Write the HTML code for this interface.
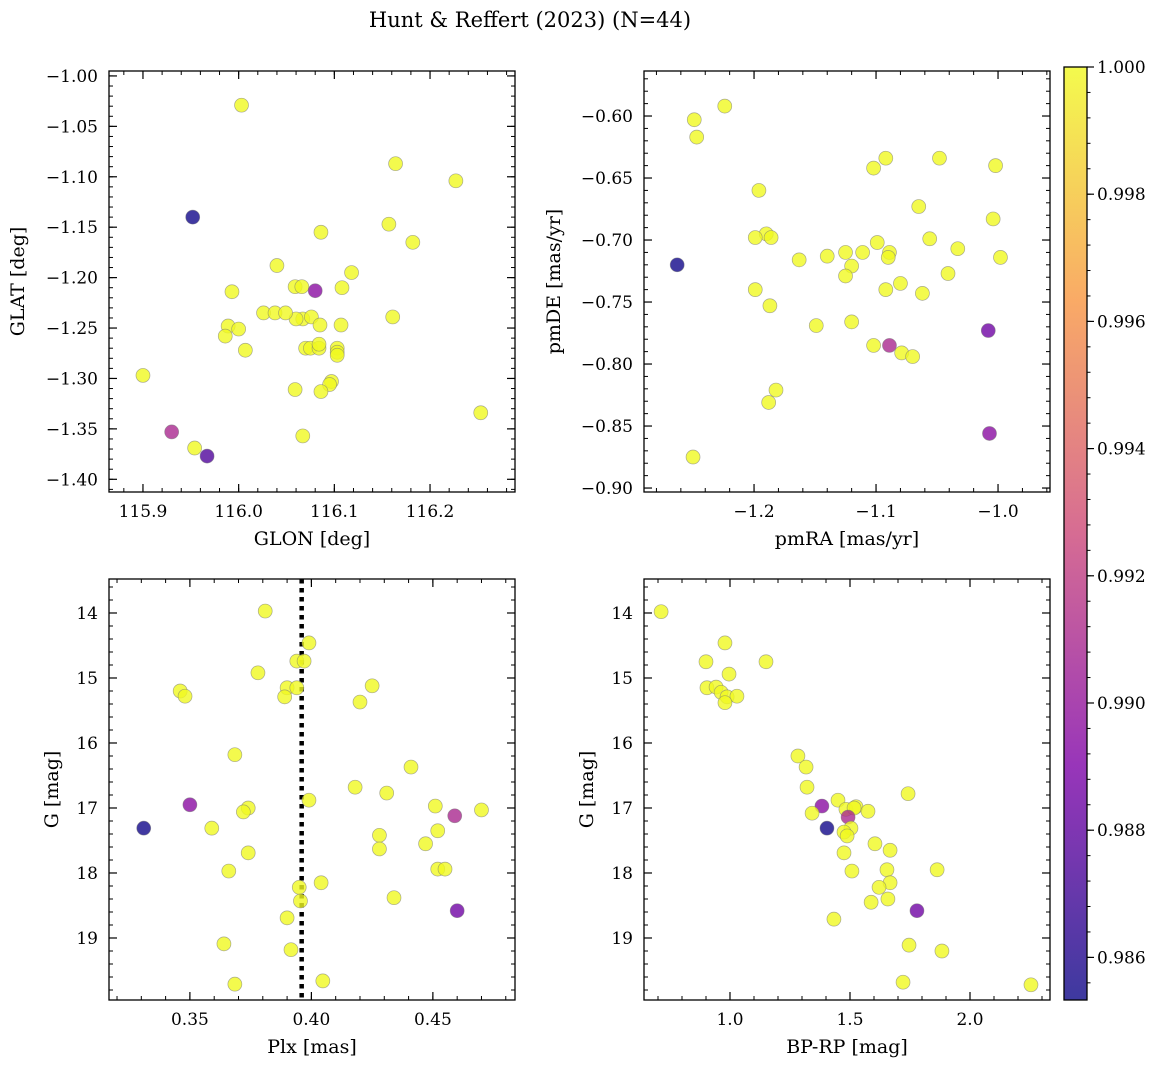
<!DOCTYPE html>
<html><head><meta charset="utf-8">
<style>
body{margin:0;background:#fff;}
svg{display:block;font-family:"DejaVu Serif","Liberation Serif",serif;}
</style></head>
<body>
<svg id="fig" width="1161" height="1068" viewBox="0 0 1161 1068">
<text x="530" y="27" text-anchor="middle" font-size="21">Hunt &amp; Reffert (2023) (N=44)</text>
</svg>
<script>
// ---------- data ----------
const tlGlon=[116.003,116.164,116.227,115.952,116.157,116.086,116.182,116.040,116.118,116.059,116.066,116.080,115.993,116.108,116.026,116.038,116.067,116.076,116.107,115.989,116.085,116.000,115.986,116.007,116.161,116.103,116.070,116.075,116.084,116.103,116.103,115.900,116.097,116.059,116.095,116.086,116.067,115.930,115.954,115.967,116.253,116.060,116.049,116.084];
const tlGlat=[-1.029,-1.087,-1.104,-1.140,-1.147,-1.155,-1.165,-1.188,-1.195,-1.209,-1.209,-1.213,-1.214,-1.210,-1.235,-1.235,-1.241,-1.239,-1.247,-1.248,-1.247,-1.251,-1.258,-1.272,-1.239,-1.270,-1.270,-1.270,-1.270,-1.274,-1.277,-1.297,-1.303,-1.311,-1.306,-1.313,-1.357,-1.353,-1.369,-1.377,-1.334,-1.241,-1.235,-1.266];
const tlProb=[1,1,1,0.9855,1,1,1,1,1,1,1,0.9895,1,1,1,1,1,1,1,1,1,1,1,1,1,1,1,1,1,1,1,1,1,1,1,1,1,0.991,1,0.9875,1,1,1,1];

const trPmra=[-1.224,-1.249,-1.247,-1.048,-1.092,-1.002,-1.102,-1.196,-1.065,-1.004,-1.190,-1.199,-1.186,-1.056,-1.099,-1.089,-1.125,-1.033,-1.163,-1.140,-1.120,-1.090,-1.125,-1.041,-1.092,-1.080,-1.062,-1.199,-1.187,-1.120,-1.149,-1.102,-1.089,-1.079,-1.070,-1.182,-1.188,-1.250,-1.263,-1.008,-1.007,-0.998,-1.111];
const trPmde=[-0.592,-0.603,-0.617,-0.634,-0.634,-0.640,-0.642,-0.660,-0.673,-0.683,-0.695,-0.698,-0.698,-0.699,-0.702,-0.710,-0.710,-0.707,-0.716,-0.713,-0.721,-0.714,-0.729,-0.727,-0.740,-0.735,-0.743,-0.740,-0.753,-0.766,-0.769,-0.785,-0.785,-0.791,-0.794,-0.821,-0.831,-0.875,-0.720,-0.773,-0.856,-0.714,-0.710];
const trProb=[1,1,1,1,1,1,1,1,1,1,1,1,1,1,1,1,1,1,1,1,1,1,1,1,1,1,1,1,1,1,1,1,0.991,1,1,1,1,1,0.9855,0.9885,0.9895,1,1];

const blPlx=[0.381,0.399,0.394,0.397,0.346,0.348,0.378,0.390,0.389,0.394,0.425,0.420,0.3685,0.441,0.418,0.431,0.399,0.350,0.374,0.372,0.451,0.470,0.459,0.359,0.331,0.452,0.428,0.428,0.447,0.374,0.452,0.455,0.366,0.404,0.395,0.3955,0.434,0.460,0.390,0.364,0.3916,0.4047,0.3685];
const blG=[13.97,14.46,14.74,14.74,15.20,15.28,14.92,15.15,15.29,15.15,15.12,15.37,16.18,16.37,16.68,16.77,16.88,16.95,17.00,17.06,16.97,17.03,17.12,17.31,17.31,17.35,17.42,17.63,17.55,17.69,17.94,17.94,17.97,18.15,18.22,18.43,18.38,18.58,18.69,19.09,19.18,19.66,19.71];
const blProb=[1,1,1,1,1,1,1,1,1,1,1,1,1,1,1,1,1,0.9895,1,1,1,1,0.991,1,0.9855,1,1,1,1,1,1,1,1,1,1,1,1,0.9885,1,1,1,1,1];

const brBprp=[0.713,0.979,0.900,1.150,0.996,0.904,0.942,0.963,0.988,1.029,0.979,1.283,1.317,1.321,1.742,1.383,1.450,1.483,1.525,1.517,1.575,1.342,1.492,1.404,1.504,1.475,1.488,1.604,1.667,1.475,1.654,1.863,1.508,1.667,1.621,1.588,1.658,1.779,1.433,1.746,1.883,1.721,2.254];
const brG=[13.98,14.46,14.75,14.75,14.94,15.15,15.14,15.22,15.29,15.28,15.38,16.20,16.37,16.68,16.78,16.97,16.88,17.02,16.98,17.00,17.05,17.08,17.14,17.31,17.31,17.37,17.43,17.55,17.65,17.69,17.95,17.95,17.97,18.15,18.22,18.45,18.40,18.58,18.71,19.11,19.20,19.68,19.72];
const brProb=[1,1,1,1,1,1,1,1,1,1,1,1,1,1,1,0.9895,1,1,1,1,1,1,0.991,0.9855,1,1,1,1,1,1,1,1,1,1,1,1,1,0.9885,1,1,1,1,1];

const cbTicks=[0.986,0.988,0.990,0.992,0.994,0.996,0.998,1.000];
const plxLine=[0.396];

// ---------- helpers ----------
const NS="http://www.w3.org/2000/svg";
const fig=document.getElementById('fig');
function mk(tag,attrs,parent){const e=document.createElementNS(NS,tag);for(const k in attrs)e.setAttribute(k,attrs[k]);(parent||fig).appendChild(e);return e;}
const VMIN=0.98533,VMAX=1.0;
const stops=[[0,[13,8,135]],[0.25,[126,3,168]],[0.5,[204,71,120]],[0.75,[248,149,64]],[1,[240,249,33]]];
function cmap(v){let t=(v-VMIN)/(VMAX-VMIN);t=Math.max(0,Math.min(1,t));
 for(let i=1;i<stops.length;i++){if(t<=stops[i][0]){const a=stops[i-1],b=stops[i];const f=(t-a[0])/(b[0]-a[0]);
 return 'rgb('+a[1].map((c,j)=>Math.round(c+(b[1][j]-c)*f)).join(',')+')';}}return 'rgb(240,249,33)';}
function fmt(v,d){let s=v.toFixed(d);return s.replace('-','\u2212');}

function panel(o){
 const {x0,y0,x1,y1,xmin,xmax,ymin,ymax,invY}=o;
 const sx=v=>x0+(v-xmin)/(xmax-xmin)*(x1-x0);
 const sy=v=>invY? y0+(v-ymin)/(ymax-ymin)*(y1-y0) : y1-(v-ymin)/(ymax-ymin)*(y1-y0);
 const g=mk('g',{});
 
 
 function range(a,b,s){const r=[];const n0=Math.ceil(a/s-1e-6),n1=Math.floor(b/s+1e-6);for(let n=n0;n<=n1;n++)r.push(n*s);return r;}
 range(xmin,xmax,o.xminor).forEach(v=>{const X=sx(v);mk('line',{x1:X,x2:X,y1:y1,y2:y1-4,stroke:'#000','stroke-width':1},g);mk('line',{x1:X,x2:X,y1:y0,y2:y0+4,stroke:'#000','stroke-width':1},g);});
 range(ymin,ymax,o.yminor).forEach(v=>{const Y=sy(v);mk('line',{x1:x0,x2:x0+4,y1:Y,y2:Y,stroke:'#000','stroke-width':1},g);mk('line',{x1:x1,x2:x1-4,y1:Y,y2:Y,stroke:'#000','stroke-width':1},g);});
 range(xmin,xmax,o.xmajor).forEach(v=>{const X=sx(v);mk('line',{x1:X,x2:X,y1:y1,y2:y1-8,stroke:'#000','stroke-width':1.2},g);mk('line',{x1:X,x2:X,y1:y0,y2:y0+8,stroke:'#000','stroke-width':1.2},g);
   const t=mk('text',{x:X,y:y1+25,'text-anchor':'middle','font-size':17},g);t.textContent=fmt(v,o.xdec);
   
   });
 range(ymin,ymax,o.ymajor).forEach(v=>{const Y=sy(v);mk('line',{x1:x0,x2:x0+8,y1:Y,y2:Y,stroke:'#000','stroke-width':1.2},g);mk('line',{x1:x1,x2:x1-8,y1:Y,y2:Y,stroke:'#000','stroke-width':1.2},g);
   const t=mk('text',{x:x0-11,y:Y+6,'text-anchor':'end','font-size':17},g);t.textContent=fmt(v,o.ydec);
   
   });
 if(o.vline){o.vline.forEach(v=>{const l=mk('line',{x1:sx(v),x2:sx(v),y1:y0,y2:y1,stroke:'#000','stroke-width':4.5,'stroke-dasharray':'4.5,4.5'},g);
   
   });}
 const cp=mk('clipPath',{id:'c'+o.name},g);mk('rect',{x:x0,y:y0,width:x1-x0,height:y1-y0},cp);
 const pg=mk('g',{'clip-path':'url(#c'+o.name+')'},g);
 o.xs.forEach((v,i)=>{const c=mk('circle',{cx:sx(v),cy:sy(o.ys[i]),r:7,fill:cmap(o.cs[i]),'fill-opacity':0.8,stroke:'#777','stroke-opacity':0.6,'stroke-width':0.7},pg);
   
   });
 mk('rect',{x:x0,y:y0,width:x1-x0,height:y1-y0,fill:'none',stroke:'#000','stroke-width':1.3},g);
 const xl=mk('text',{x:(x0+x1)/2,y:y1+53,'text-anchor':'middle','font-size':19},g);xl.textContent=o.xlabel;
 
 
 const yx=o.ylx, yy=(y0+y1)/2;
 const yl=mk('text',{x:yx,y:yy,'text-anchor':'middle','font-size':19,transform:'rotate(-90 '+yx+' '+yy+')'},g);yl.textContent=o.ylabel;
 
 
}

panel({name:'glon-glat-panel',x0:109,y0:71,x1:515,y1:492,xmin:115.8645,xmax:116.2888,ymin:-1.4126,ymax:-0.9951,xmajor:0.1,xminor:0.02,ymajor:0.05,yminor:0.01,xdec:1,ydec:2,xs:tlGlon,ys:tlGlat,cs:tlProb,xlabel:'GLON [deg]',ylabel:'GLAT [deg]',ylx:24});
panel({name:'proper-motion-panel',x0:644,y0:71,x1:1050,y1:492,xmin:-1.2902,xmax:-0.9574,ymin:-0.9032,ymax:-0.5637,xmajor:0.1,xminor:0.02,ymajor:0.05,yminor:0.01,xdec:1,ydec:2,xs:trPmra,ys:trPmde,cs:trProb,xlabel:'pmRA [mas/yr]',ylabel:'pmDE [mas/yr]',ylx:560});
panel({name:'parallax-magnitude-panel',x0:109,y0:579,x1:515,y1:1000,xmin:0.3167,xmax:0.4838,ymin:13.477,ymax:19.954,invY:true,xmajor:0.05,xminor:0.01,ymajor:1,yminor:0.2,xdec:2,ydec:0,xs:blPlx,ys:blG,cs:blProb,xlabel:'Plx [mas]',ylabel:'G [mag]',ylx:58,vline:plxLine});
panel({name:'color-magnitude-panel',x0:644,y0:579,x1:1050,y1:1000,xmin:0.6417,xmax:2.3333,ymin:13.477,ymax:19.954,invY:true,xmajor:0.5,xminor:0.1,ymajor:1,yminor:0.2,xdec:1,ydec:0,xs:brBprp,ys:brG,cs:brProb,xlabel:'BP-RP [mag]',ylabel:'G [mag]',ylx:593});

// colorbar
(function(){
 const x0=1064,x1=1087,y0=67,y1=1000;
 const g=mk('g',{});
 
 
 const defs=mk('defs',{},g);
 const lg=mk('linearGradient',{id:'cbg',x1:0,y1:1,x2:0,y2:0},defs);
 for(let i=0;i<=20;i++){const t=i/20;mk('stop',{offset:t,'stop-color':cmap(VMIN+t*(VMAX-VMIN)),'stop-opacity':0.8},lg);}
 mk('rect',{x:x0,y:y0,width:x1-x0,height:y1-y0,fill:'url(#cbg)'},g);
 const sy=v=>y1-(v-VMIN)/(VMAX-VMIN)*(y1-y0);
 for(let n=Math.ceil(VMIN/0.0004);n*0.0004<=VMAX+1e-9;n++){const Y=sy(n*0.0004);mk('line',{x1:x1,x2:x1+3.5,y1:Y,y2:Y,stroke:'#000','stroke-width':1},g);}
 cbTicks.forEach(v=>{const Y=sy(v);mk('line',{x1:x1,x2:x1+7,y1:Y,y2:Y,stroke:'#000','stroke-width':1.2},g);
  const t=mk('text',{x:x1+10,y:Y+6,'font-size':17},g);t.textContent=v.toFixed(3);
  
  });
 mk('rect',{x:x0,y:y0,width:x1-x0,height:y1-y0,fill:'none',stroke:'#000','stroke-width':1.3},g);
})();
</script>
</body></html>
